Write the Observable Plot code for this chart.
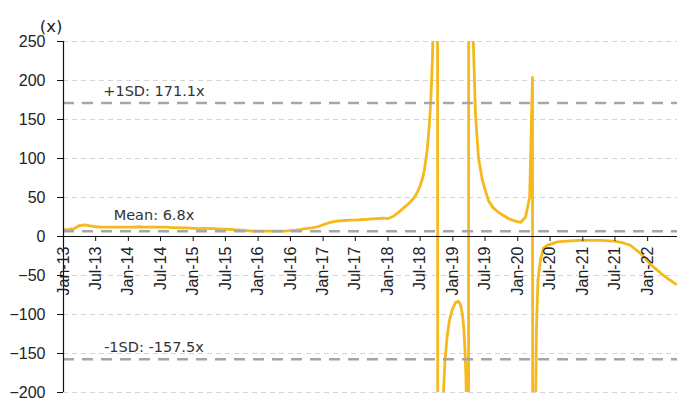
<!DOCTYPE html>
<html>
<head>
<meta charset="utf-8">
<script src="https://cdn.jsdelivr.net/npm/d3@7"></script>
<script src="https://cdn.jsdelivr.net/npm/@observablehq/plot@0.6"></script>
<style>
  html, body { margin: 0; padding: 0; background: #fff; }
  #chart svg { display: block; }
</style>
</head>
<body>
<div id="chart"></div>
<script>
// ---- data ----
const dates = [
  "2013-01-01","2013-02-01","2013-03-01","2013-04-01","2013-05-01","2013-06-01","2013-07-01","2013-08-01","2013-09-01","2013-10-01","2013-11-01","2013-12-01",
  "2014-01-01","2014-02-01","2014-03-01","2014-04-01","2014-05-01","2014-06-01","2014-07-01","2014-08-01","2014-09-01","2014-10-01","2014-11-01","2014-12-01",
  "2015-01-01","2015-02-01","2015-03-01","2015-04-01","2015-05-01","2015-06-01","2015-07-01","2015-08-01","2015-09-01","2015-10-01","2015-11-01","2015-12-01",
  "2016-01-01","2016-02-01","2016-03-01","2016-04-01","2016-05-01","2016-06-01","2016-07-01","2016-08-01","2016-09-01","2016-10-01","2016-11-01","2016-12-01",
  "2017-01-01","2017-02-01","2017-03-01","2017-04-01","2017-05-01","2017-06-01","2017-07-01","2017-08-01","2017-09-01","2017-10-01","2017-11-01","2017-12-01",
  "2018-01-01","2018-02-01","2018-03-01","2018-04-01","2018-05-01","2018-06-01","2018-06-15","2018-07-01","2018-07-15","2018-07-25",
  "2018-08-03","2018-08-11","2018-08-18","2018-08-24","2018-08-29","2018-09-03","2018-09-08","2018-09-13","2018-09-19","2018-10-01","2018-10-14",
  "2018-11-03","2018-11-09","2018-11-17","2018-11-29","2018-12-12","2018-12-28","2019-01-15","2019-02-01","2019-02-14","2019-02-24","2019-03-04","2019-03-10","2019-03-15","2019-03-19","2019-03-26",
  "2019-04-04","2019-04-15","2019-04-26","2019-05-08","2019-05-25","2019-06-16","2019-07-20","2019-08-15","2019-09-14","2019-10-12","2019-11-09","2019-12-15",
  "2020-01-17","2020-02-14","2020-03-08","2020-03-24","2020-03-31","2020-04-07","2020-04-15","2020-04-24","2020-05-08","2020-05-25","2020-06-17","2020-08-12","2020-10-24","2020-12-20",
  "2021-04-12","2021-06-24","2021-08-14","2021-09-28","2021-11-23","2022-01-18","2022-04-01","2022-06-08"
];
const peValues = [
  8.5, 9, 10, 14, 15, 13.5, 12.5, 12, 12, 12, 12, 12,
  12, 12, 12.5, 12, 12, 12, 12, 12, 11.5, 11.5, 11, 11,
  10.5, 10, 10.5, 10, 10, 9.5, 9.5, 9, 8.5, 8, 7.5, 7,
  7, 7, 7, 7, 7, 7, 7.5, 8, 9, 10.5, 11, 12.5,
  15, 17.5, 19, 20, 20.5, 21, 21, 21.5, 22, 22.5, 23, 23.5,
  23, 26, 31, 37, 43, 51, 57, 65, 75, 86,
  100, 115, 133, 152, 172, 198, 230, 275, 360, 3000, -3000,
  -280, -200, -162, -130, -108, -94, -85, -83, -88, -100, -120, -145, -175, -215, -3000,
  3000, 400, 250, 158, 101, 72, 46, 37, 31, 27, 23, 20,
  18, 25, 50, 204, -3000, -300, -120, -55, -30, -15, -11, -7, -5.5, -5,
  -5, -6, -8, -11.5, -22, -36, -50, -61
];
const refNames = ["+1SD: 171.1x", "-1SD: -157.5x"];
const refValues = [171.1, -157.5];
const meanName = "Mean: 6.8x";
const meanValue = 6.8;
const yTicks = [-200, -150, -100, -50, 0, 50, 100, 150, 200, 250];
const xTickLabels = ["Jan-13","Jul-13","Jan-14","Jul-14","Jan-15","Jul-15","Jan-16","Jul-16","Jan-17","Jul-17","Jan-18","Jul-18","Jan-19","Jul-19","Jan-20","Jul-20","Jan-21","Jul-21","Jan-22"];
const yUnit = "(x)";

// ---- build tables ----
const parse = d3.utcParse("%Y-%m-%d");
const data = dates.map((d, i) => ({date: parse(d), value: peValues[i]}));
const parseTick = d3.utcParse("%b-%y");
const xTicks = xTickLabels.map(t => ({date: parseTick(t), label: t}));
const labelDate = parse("2014-05-25");
const xStart = parse("2013-01-01");

const lineColor = "#F5B91C";
const refColor = "#a6a6a6";

const chart = Plot.plot({
  width: 689,
  height: 405,
  marginLeft: 63,
  marginRight: 12,
  marginTop: 41,
  marginBottom: 13,
  x: {type: "utc", domain: [xStart, parse("2022-06-18")], axis: null},
  y: {domain: [-200, 250], axis: null},
  style: {fontFamily: "'Liberation Sans', Arial, sans-serif", fontSize: "16px", color: "#222", background: "#fff"},
  marks: [
    Plot.ruleY(yTicks.filter(v => v !== 0), {stroke: "#d4d4d4", strokeWidth: 1, strokeDasharray: "5,4"}),
    Plot.line(data, {x: "date", y: "value", stroke: lineColor, strokeWidth: 2.8, strokeLinejoin: "round", clip: true}),
    Plot.ruleY([0], {stroke: "#111", strokeWidth: 1.2}),
    Plot.ruleY(refValues.concat([meanValue]), {stroke: refColor, strokeWidth: 2.5, strokeDasharray: "11,8"}),
    Plot.text(refNames, {x: () => labelDate, y: (d, i) => refValues[i], text: d => d, dy: -12, fontFamily: "'DejaVu Sans', Verdana, sans-serif", fontSize: 14.5, fill: "#333"}),
    Plot.text([meanName], {x: () => labelDate, y: () => meanValue, text: d => d, dy: -16, fontFamily: "'DejaVu Sans', Verdana, sans-serif", fontSize: 14.5, fill: "#333"}),
    Plot.ruleX([xStart], {y1: -200, y2: 250, stroke: "#111", strokeWidth: 1.2}),
    Plot.ruleX(xTicks, {x: "date", y1: 0, y2: 0, insetBottom: -5, stroke: "#111", strokeWidth: 1}),
    Plot.text(xTicks, {x: "date", y: () => 0, text: "label", rotate: -90, textAnchor: "end", dy: 10, fontSize: 16, fill: "#222"}),
    Plot.axisY({ticks: yTicks, tickSize: 6, tickPadding: 12, label: null, fontSize: 16, stroke: "#111", fill: "#222"}),
    Plot.text([yUnit], {frameAnchor: "top-left", dx: -1, dy: -21, textAnchor: "end", text: d => d, fontFamily: "'DejaVu Sans', Verdana, sans-serif", fontSize: 16.5, fill: "#222"})
  ]
});
document.getElementById("chart").appendChild(chart);
</script>
</body>
</html>
